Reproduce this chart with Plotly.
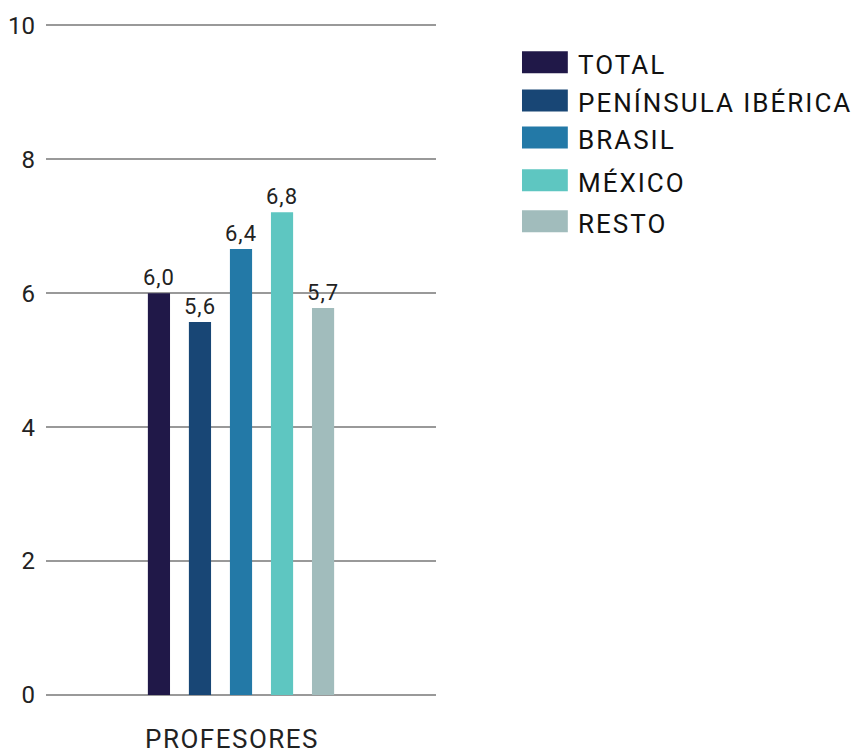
import plotly.graph_objects as go

category = ["PROFESORES"]
series_names = ["TOTAL", "PENÍNSULA IBÉRICA", "BRASIL", "MÉXICO", "RESTO"]
bar_values = [6.0, 5.57, 6.66, 7.21, 5.78]
value_labels = ["6,0", "5,6", "6,4", "6,8", "5,7"]
colors = ["#201848", "#184675", "#2379a7", "#5ec6c1", "#a1bcbc"]
y_ticks = [0, 2, 4, 6, 8, 10]

FONT = "Roboto"


def spaced(s, px):
    return f'<span style="letter-spacing:{px}px">{s}</span>'


fig = go.Figure()
for name, v, lab, c in zip(series_names, bar_values, value_labels, colors):
    fig.add_trace(go.Bar(
        x=category, y=[v], name=name, marker_color=c, marker_line_width=0,
        text=[spaced(lab, 1)], textposition="outside", cliponaxis=False,
        constraintext="none",
        textfont=dict(family=FONT, size=22, color="#222222"),
        showlegend=False,
    ))

# custom legend (large swatches)
row_y = [0.943, 0.886, 0.831, 0.767, 0.706]
for i, (name, c) in enumerate(zip(series_names, colors)):
    yc = row_y[i]
    fig.add_shape(type="rect", xref="paper", yref="paper",
                  x0=1.2205, x1=1.338, y0=yc - 0.0164, y1=yc + 0.0164,
                  fillcolor=c, line_width=0)
    fig.add_annotation(xref="paper", yref="paper", x=1.364, y=yc,
                       text=spaced(name, 2), showarrow=False,
                       xanchor="left", yanchor="middle", xshift=-2, yshift=-3,
                       font=dict(family=FONT, size=26, color="#111111"))

# category label
fig.add_annotation(xref="x", x=category[0], yref="paper", y=0,
                   text=spaced(category[0], 1.5), showarrow=False,
                   xanchor="center", yanchor="top", xshift=-9, yshift=-28,
                   borderpad=0,
                   font=dict(family=FONT, size=26, color="#222222"))

fig.update_layout(
    width=857, height=753,
    margin=dict(l=46, r=421, t=24, b=58),
    paper_bgcolor="white", plot_bgcolor="white",
    barmode="group", bargap=0.474, bargroupgap=0.46,
    font=dict(family=FONT, color="#222222"),
)
fig.update_yaxes(range=[0, 10.02], tickvals=y_ticks, ticktext=[str(t) for t in y_ticks],
                 automargin=False,
                 showgrid=True, gridcolor="#999999", gridwidth=1.6,
                 zeroline=True, zerolinecolor="#999999", zerolinewidth=1.6,
                 showline=False, ticks="", ticklabelstandoff=10,
                 tickfont=dict(family=FONT, size=24, color="#222222"))
fig.update_xaxes(showline=False, ticks="", showgrid=False, automargin=False,
                 showticklabels=False)

fig.write_html("out.html", config={"displayModeBar": False},
               post_script="document.body.style.margin='0';")
